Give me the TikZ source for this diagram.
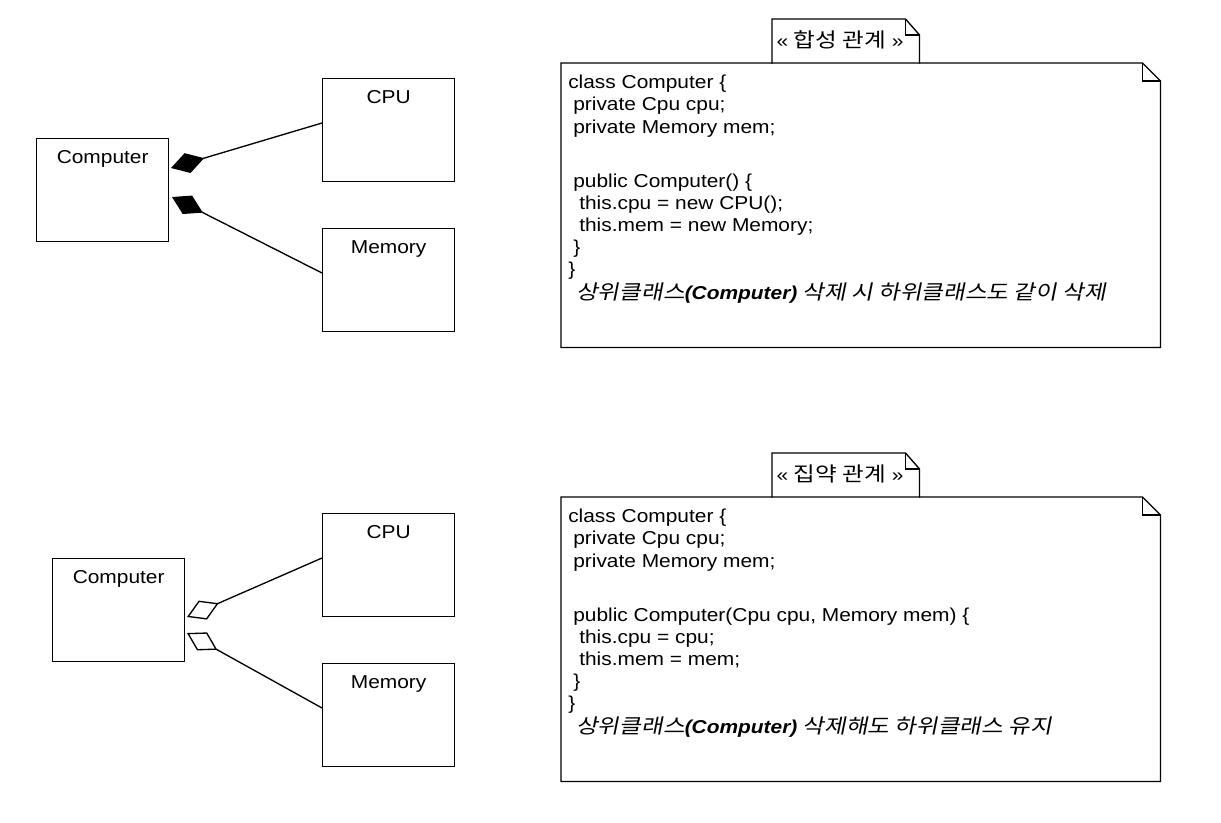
\documentclass[tikz,border=0pt]{standalone}
\usepackage{fontspec}
\setmainfont{Liberation Sans}[FakeStretch=1.12]
\newfontfamily\kr{Noto Sans CJK KR}[Scale=1.08,FakeStretch=1.17]
\newfontfamily\krit{Noto Sans CJK KR}[Scale=1.08,FakeStretch=1.17,FakeSlant=0.2]
\usetikzlibrary{arrows.meta}
\begin{document}
\begin{tikzpicture}[x=0.75pt,y=-0.75pt,
  font=\fontsize{14pt}{17pt}\selectfont,
  cls/.style={draw, line width=1pt, minimum width=99pt, minimum height=77.25pt, anchor=north west, inner sep=0pt},
  lbl/.style={anchor=base, inner sep=0pt},
  code/.style={anchor=base west, inner sep=0pt},
  notebox/.style={minimum width=449.25pt, minimum height=213pt, anchor=north west, inner sep=0pt},
  tagbox/.style={minimum width=110.25pt, minimum height=33pt, anchor=north west, inner sep=0pt},
  outline/.style={line width=1pt, line join=miter},
  compo/.style={line width=1pt, -{Diamond[length=25.9pt,width=15.5pt,fill=black]}},
  aggr/.style={line width=1pt, -{Diamond[length=25.9pt,width=15.5pt,fill=white]}}
]
\fill[white] (0,0) rectangle (1221,822);
\useasboundingbox (0,0) rectangle (1221,822);

% ---------- top: composition ----------
\node[cls] (comp1) at (36,138) {};
\node[cls] (cpu1) at (322,78) {};
\node[cls] (mem1) at (322,228) {};
\node[lbl] (comp1l) at ([yshift=-18.75pt]comp1.north) {Computer};
\node[lbl] (cpu1l) at ([yshift=-18.75pt]cpu1.north) {CPU};
\node[lbl] (mem1l) at ([yshift=-18.75pt]mem1.north) {Memory};
\coordinate (tip1) at (171,168);
\coordinate (tip2) at (172,197);
\draw[compo] ([yshift=-33.75pt]cpu1.north west) -- (tip1);
\draw[compo] ([yshift=-33.75pt]mem1.north west) -- (tip2);

% note 1
\node[notebox] (note1) at (561,63) {};
\draw[outline] (note1.north west) -- ([xshift=-13.5pt]note1.north east) -- ([yshift=-13.5pt]note1.north east) -- (note1.south east) -- (note1.south west) -- cycle;
\draw[outline] ([xshift=-13.5pt]note1.north east) |- ([yshift=-13.5pt]note1.north east);
\node[tagbox] (tag1) at (772,19) {};
\draw[outline] (tag1.south west) -- (tag1.north west) -- ([xshift=-10.5pt]tag1.north east) -- ([yshift=-12pt]tag1.north east) -- (tag1.south east);
\draw[outline] ([xshift=-10.5pt]tag1.north east) |- ([yshift=-12pt]tag1.north east);
\node[lbl] (tag1t) at (840,47) {«~{\kr 합성 관계}~»};

\node[code] (n1a) at (568,88) {class Computer \{};
\node[code] (n1b) at (573,110) {private Cpu cpu;};
\node[code] (n1c) at (573,133) {private Memory mem;};
\node[code] (n1d) at (573,187) {public Computer() \{};
\node[code] (n1e) at (579,209) {this.cpu = new CPU();};
\node[code] (n1f) at (579,231) {this.mem = new Memory;};
\node[code] (n1g) at (573,253) {\}};
\node[code] (n1h) at (568,275) {\}};
\node[code] (n1i) at (576,299) {{\krit 상위클래스}{\bfseries\itshape (Computer)}{\krit\ 삭제 시 하위클래스도 같이 삭제}};

% ---------- bottom: aggregation ----------
\node[cls] (comp2) at (52,558) {};
\node[cls] (cpu2) at (322,513) {};
\node[cls] (mem2) at (322,663) {};
\node[lbl] (comp2l) at ([yshift=-18.75pt]comp2.north) {Computer};
\node[lbl] (cpu2l) at ([yshift=-18.75pt]cpu2.north) {CPU};
\node[lbl] (mem2l) at ([yshift=-18.75pt]mem2.north) {Memory};
\coordinate (tip3) at (187,617);
\coordinate (tip4) at (187,633);
\draw[aggr] ([yshift=-33.75pt]cpu2.north west) -- (tip3);
\draw[aggr] ([yshift=-33.75pt]mem2.north west) -- (tip4);

% note 2
\node[notebox] (note2) at (561,497) {};
\draw[outline] (note2.north west) -- ([xshift=-13.5pt]note2.north east) -- ([yshift=-13.5pt]note2.north east) -- (note2.south east) -- (note2.south west) -- cycle;
\draw[outline] ([xshift=-13.5pt]note2.north east) |- ([yshift=-13.5pt]note2.north east);
\node[tagbox] (tag2) at (772,453) {};
\draw[outline] (tag2.south west) -- (tag2.north west) -- ([xshift=-10.5pt]tag2.north east) -- ([yshift=-12pt]tag2.north east) -- (tag2.south east);
\draw[outline] ([xshift=-10.5pt]tag2.north east) |- ([yshift=-12pt]tag2.north east);
\node[lbl] (tag2t) at (840,481) {«~{\kr 집약 관계}~»};

\node[code] (n2a) at (568,522) {class Computer \{};
\node[code] (n2b) at (573,544) {private Cpu cpu;};
\node[code] (n2c) at (573,567) {private Memory mem;};
\node[code] (n2d) at (573,621) {public Computer(Cpu cpu, Memory mem) \{};
\node[code] (n2e) at (579,643) {this.cpu = cpu;};
\node[code] (n2f) at (579,665) {this.mem = mem;};
\node[code] (n2g) at (573,687) {\}};
\node[code] (n2h) at (568,709) {\}};
\node[code] (n2i) at (576,733) {{\krit 상위클래스}{\bfseries\itshape (Computer)}{\krit\ 삭제해도 하위클래스 유지}};
\end{tikzpicture}
\end{document}
